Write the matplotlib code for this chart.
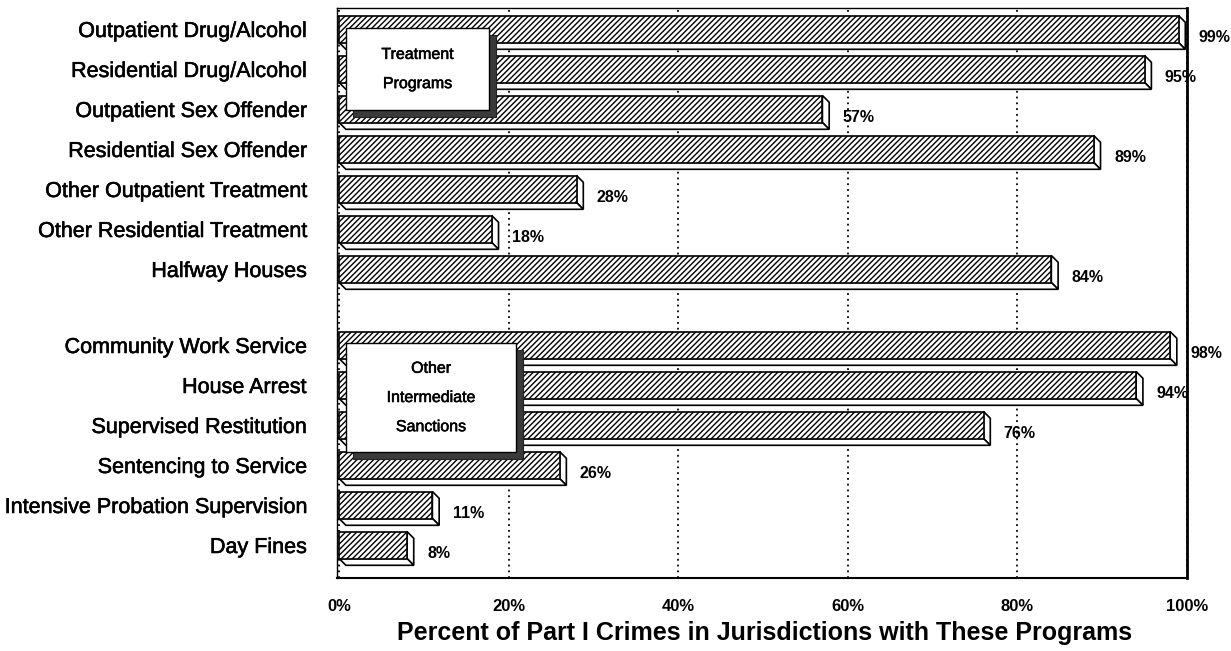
import numpy as np
import matplotlib.pyplot as plt
from matplotlib.patches import Rectangle, Polygon
import matplotlib.patheffects as pe

plt.rcParams['font.family'] = ['Liberation Sans', 'DejaVu Sans']
plt.rcParams['hatch.linewidth'] = 1.0

# data
treat_labels = ['Outpatient Drug/Alcohol', 'Residential Drug/Alcohol', 'Outpatient Sex Offender',
                'Residential Sex Offender', 'Other Outpatient Treatment',
                'Other Residential Treatment', 'Halfway Houses']
treat_vals = [99, 95, 57, 89, 28, 18, 84]

other_labels = ['Community Work Service', 'House Arrest', 'Supervised Restitution',
                'Sentencing to Service', 'Intensive Probation Supervision', 'Day Fines']
other_vals = [98, 94, 76, 26, 11, 8]

xticks = [0, 20, 40, 60, 80, 100]
xlab = 'Percent of Part I Crimes in Jurisdictions with These Programs'

labels = treat_labels + other_labels
vals = treat_vals + other_vals
rows = list(range(len(treat_vals))) + [7.9 + i for i in range(len(other_vals))]

W, H = 1231, 651
fig = plt.figure(figsize=(W/100, H/100), dpi=100)
ax = fig.add_axes([337/W, 1-578/H, 850/W, 570/H])
ax.set_xlim(-0.25, 100)
ax.set_ylim(13.725, -0.525)

h = 0.675      # front face height (rows)
dx, dy = 0.8, 0.17   # 3d depth

thick = [pe.withStroke(linewidth=0.4, foreground='black')]

# front faces
ax.barh(rows, vals, height=h, left=0, color='white', edgecolor='black',
        hatch='//////', linewidth=1.2, zorder=3)
for y, v in zip(rows, vals):
    top = y - h/2
    bot = y + h/2
    side = Polygon([(v, top), (v+dx, top+dy), (v+dx, bot+dy), (v, bot)],
                   closed=True, fc='white', ec='black', lw=1.2, zorder=2.9)
    under = Polygon([(0, bot), (dx, bot+dy), (v+dx, bot+dy), (v, bot)],
                    closed=True, fc='white', ec='black', lw=1.2, zorder=2.9)
    ax.add_patch(side)
    ax.add_patch(under)
    ax.text(v+2.4, y+0.22, '%d%%' % v, fontsize=11.5, fontweight='bold',
            ha='left', va='center', clip_on=False, zorder=5)

# group boxes with shadow
def group_box(x0, y0, x1, y1, lines):
    sx, sy = 0.83, 0.175
    ax.add_patch(Rectangle((x0+sx, y0+sy), x1-x0, y1-y0, fc='#3a3a3a',
                           ec='#222222', lw=0.8, zorder=6))
    ax.add_patch(Rectangle((x0, y0), x1-x0, y1-y0, fc='white',
                           ec='black', lw=1.0, zorder=7))
    n = len(lines)
    step = 0.73
    yc = (y0 + y1) / 2
    for i, t in enumerate(lines):
        ax.text((x0+x1)/2, yc + (i - (n-1)/2)*step, t, fontsize=11.5,
                ha='center', va='center', zorder=8, path_effects=thick)

group_box(0.8, -0.025, 17.7, 2.025, ['Treatment', 'Programs'])
group_box(0.8, 7.85, 20.9, 10.575, ['Other', 'Intermediate', 'Sanctions'])

# axes styling
ax.set_xticks(xticks)
ax.set_xticklabels(['%d%%' % t for t in xticks], fontsize=12, fontweight='bold')
ax.set_yticks(rows)
ax.set_yticklabels(labels, fontsize=15.5)
for t in ax.get_yticklabels():
    t.set_path_effects(thick)
ax.tick_params(axis='both', length=0)
ax.tick_params(axis='x', pad=15)
ax.tick_params(axis='y', pad=22)

ax.xaxis.grid(True, color='black', linestyle=(0, (1, 2.2)), linewidth=1.3, zorder=1)
ax.set_axisbelow(True)

ax.spines['left'].set_linewidth(1.0)
ax.spines['top'].set_linewidth(1.0)
ax.spines['right'].set_linewidth(2.0)
ax.spines['bottom'].set_linewidth(1.5)

fig.text(765/W, 1-633/H, xlab, fontsize=18, fontweight='bold',
         ha='center', va='center')

plt.savefig('out.png', dpi=100)
